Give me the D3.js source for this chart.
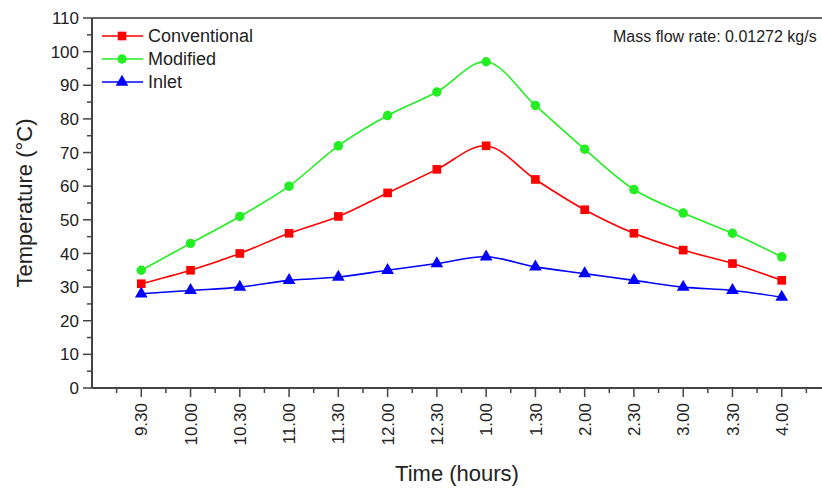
<!DOCTYPE html>
<html>
<head>
<meta charset="utf-8">
<script src="https://cdn.jsdelivr.net/npm/d3@7"></script>
<style>
  body { margin: 0; background: #fff; }
  text { font-family: Arial, "Liberation Sans", sans-serif; fill: #222; }
</style>
</head>
<body>
<svg id="chart" width="822" height="488"></svg>
<script>
// Temperature over the day, three series
var times = ["9.30", "10.00", "10.30", "11.00", "11.30", "12.00", "12.30",
             "1.00", "1.30", "2.00", "2.30", "3.00", "3.30", "4.00"];
var conventional = [31, 35, 40, 46, 51, 58, 65, 72, 62, 53, 46, 41, 37, 32];
var modified = [35, 43, 51, 60, 72, 81, 88, 97, 84, 71, 59, 52, 46, 39];
var inlet = [28, 29, 30, 32, 33, 35, 37, 39, 36, 34, 32, 30, 29, 27];
var yTicks = [0, 10, 20, 30, 40, 50, 60, 70, 80, 90, 100, 110];
var seriesNames = ["Conventional", "Modified", "Inlet"];

function draw_chart()
{
  var series = [
    { name: seriesNames[0], values: conventional, color: "#ff0000", shape: d3.symbolSquare, size: 75 },
    { name: seriesNames[1], values: modified, color: "#22ee22", shape: d3.symbolCircle, size: 70 },
    { name: seriesNames[2], values: inlet, color: "#0000ff", shape: d3.symbolTriangle, size: 70 }
  ];

  var svg = d3.select("#chart");
  // plot box (right edge runs past the picture, as in the original)
  var pl = 92, pr = 831, pt = 18, pb = 388;
  var axisColor = "#444";

  // index based x scale, one empty slot each side
  var x = d3.scaleLinear().domain([-1, times.length]).range([pl, pr]);
  var y = d3.scaleLinear().domain([0, 110]).range([pb, pt]);

  // frame: top line
  svg.append("line")
    .attr("x1", pl).attr("x2", pr)
    .attr("y1", pt).attr("y2", pt)
    .attr("stroke", "#666").attr("stroke-width", 2);

  // y axis
  var yAxis = svg.append("g");
  yAxis.append("line")
    .attr("x1", pl).attr("x2", pl)
    .attr("y1", pt).attr("y2", pb)
    .attr("stroke", axisColor).attr("stroke-width", 2);
  yAxis.selectAll(".major").data(yTicks).enter().append("line")
    .attr("x1", pl - 9).attr("x2", pl)
    .attr("y1", function(d) { return y(d); })
    .attr("y2", function(d) { return y(d); })
    .attr("stroke", axisColor).attr("stroke-width", 1.5);
  yAxis.selectAll(".minor").data(d3.range(5, 110, 10)).enter().append("line")
    .attr("x1", pl - 5).attr("x2", pl)
    .attr("y1", function(d) { return y(d); })
    .attr("y2", function(d) { return y(d); })
    .attr("stroke", axisColor).attr("stroke-width", 1.5);
  yAxis.selectAll("text").data(yTicks).enter().append("text")
    .attr("x", pl - 13)
    .attr("y", function(d) { return y(d); })
    .attr("dy", "0.36em")
    .style("text-anchor", "end")
    .style("font-size", "17px")
    .text(function(d) { return d; });

  // x axis
  var xAxis = svg.append("g");
  xAxis.append("line")
    .attr("x1", pl).attr("x2", pr)
    .attr("y1", pb).attr("y2", pb)
    .attr("stroke", axisColor).attr("stroke-width", 2);
  xAxis.selectAll(".major").data(times).enter().append("line")
    .attr("x1", function(d, i) { return x(i); })
    .attr("x2", function(d, i) { return x(i); })
    .attr("y1", pb).attr("y2", pb + 9)
    .attr("stroke", axisColor).attr("stroke-width", 1.5);
  xAxis.selectAll(".minor").data(d3.range(-0.5, times.length, 1)).enter().append("line")
    .attr("x1", function(d) { return x(d); })
    .attr("x2", function(d) { return x(d); })
    .attr("y1", pb).attr("y2", pb + 5)
    .attr("stroke", axisColor).attr("stroke-width", 1.5);
  xAxis.selectAll("text").data(times).enter().append("text")
    .attr("transform", function(d, i) { return "translate(" + x(i) + "," + (pb + 15) + ") rotate(-90)"; })
    .attr("dy", "0.36em")
    .style("text-anchor", "end")
    .style("font-size", "17px")
    .text(function(d) { return d; });

  // axis titles
  svg.append("text")
    .attr("x", 457).attr("y", 473)
    .attr("dy", "0.35em")
    .style("text-anchor", "middle")
    .style("font-size", "22px")
    .text("Time (hours)");
  svg.append("text")
    .attr("transform", "translate(24,203) rotate(-90)")
    .attr("dy", "0.35em")
    .style("text-anchor", "middle")
    .style("font-size", "22px")
    .text("Temperature (°C)");

  // lines and markers
  var line = d3.line()
    .x(function(d, i) { return x(i); })
    .y(function(d) { return y(d); })
    .curve(d3.curveCatmullRom.alpha(0.5));

  series.forEach(function(s) {
    svg.append("path")
      .attr("d", line(s.values))
      .attr("fill", "none")
      .attr("stroke", s.color)
      .attr("stroke-width", 1.6);
    svg.selectAll(null).data(s.values).enter().append("path")
      .attr("d", d3.symbol().type(s.shape).size(s.size))
      .attr("transform", function(d, i) { return "translate(" + x(i) + "," + y(d) + ")"; })
      .attr("fill", s.color);
  });

  // legend
  var legend = svg.append("g");
  series.forEach(function(s, i) {
    var ly = 36 + i * 23;
    legend.append("line")
      .attr("x1", 102).attr("x2", 143)
      .attr("y1", ly).attr("y2", ly)
      .attr("stroke", s.color).attr("stroke-width", 1.6);
    legend.append("path")
      .attr("d", d3.symbol().type(s.shape).size(s.size))
      .attr("transform", "translate(122," + ly + ")")
      .attr("fill", s.color);
    legend.append("text")
      .attr("x", 148).attr("y", ly)
      .attr("dy", "0.35em")
      .style("font-size", "18px")
      .text(s.name);
  });

  // annotation
  svg.append("text")
    .attr("x", 613).attr("y", 36)
    .attr("dy", "0.35em")
    .style("font-size", "16px")
    .text("Mass flow rate: 0.01272 kg/s");
}

draw_chart();
</script>
</body>
</html>
